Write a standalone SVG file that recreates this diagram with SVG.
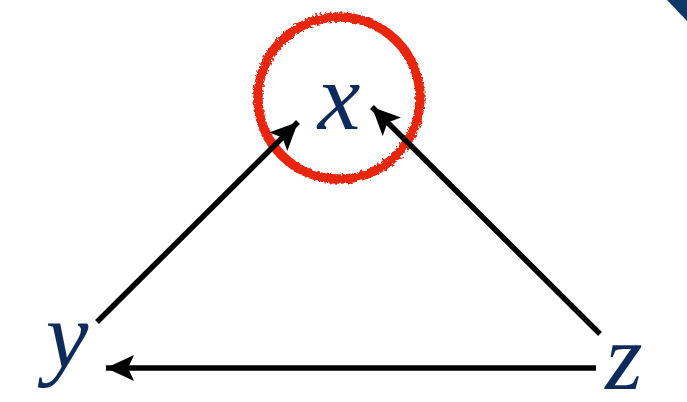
<svg xmlns="http://www.w3.org/2000/svg" width="687" height="402" viewBox="0 0 687 402">
<style>
.lbl{font-family:"Liberation Serif","DejaVu Serif",serif;font-style:italic;fill:#0d2b5a;text-anchor:middle}
.edge{stroke:#000;stroke-width:5.5;fill:none;marker-end:url(#ah)}
</style>
<defs>
<marker id="ah" markerUnits="userSpaceOnUse" markerWidth="30" markerHeight="26" refX="28" refY="13" orient="auto">
<path d="M0,0 L28,13 L0,26 L6,13 Z" fill="#000"/>
</marker>
<filter id="rough" x="-10%" y="-10%" width="120%" height="120%">
<feTurbulence type="fractalNoise" baseFrequency="0.4" numOctaves="2" seed="3"/>
<feDisplacementMap in="SourceGraphic" scale="5"/>
</filter>
</defs>
<rect width="687" height="402" fill="#fff"/>
<polygon points="667,0 687,0 687,21" fill="#0b3866"/>
<g id="highlight">
<circle cx="339" cy="98" r="81" fill="none" stroke="#e8260f" stroke-width="9.5" filter="url(#rough)"/>
</g>
<g id="connectors">
<line class="edge" x1="97" y1="322" x2="298" y2="122"/>
<line class="edge" x1="600" y1="334" x2="372" y2="107"/>
<line class="edge" x1="596" y1="368" x2="106" y2="368"/>
</g>
<g id="node-x"><text class="lbl" x="339" y="129" font-size="96">x</text></g>
<g id="node-y"><text class="lbl" x="67" y="368" font-size="96">y</text></g>
<g id="node-z"><text class="lbl" x="624" y="389" font-size="96">z</text></g>
</svg>
